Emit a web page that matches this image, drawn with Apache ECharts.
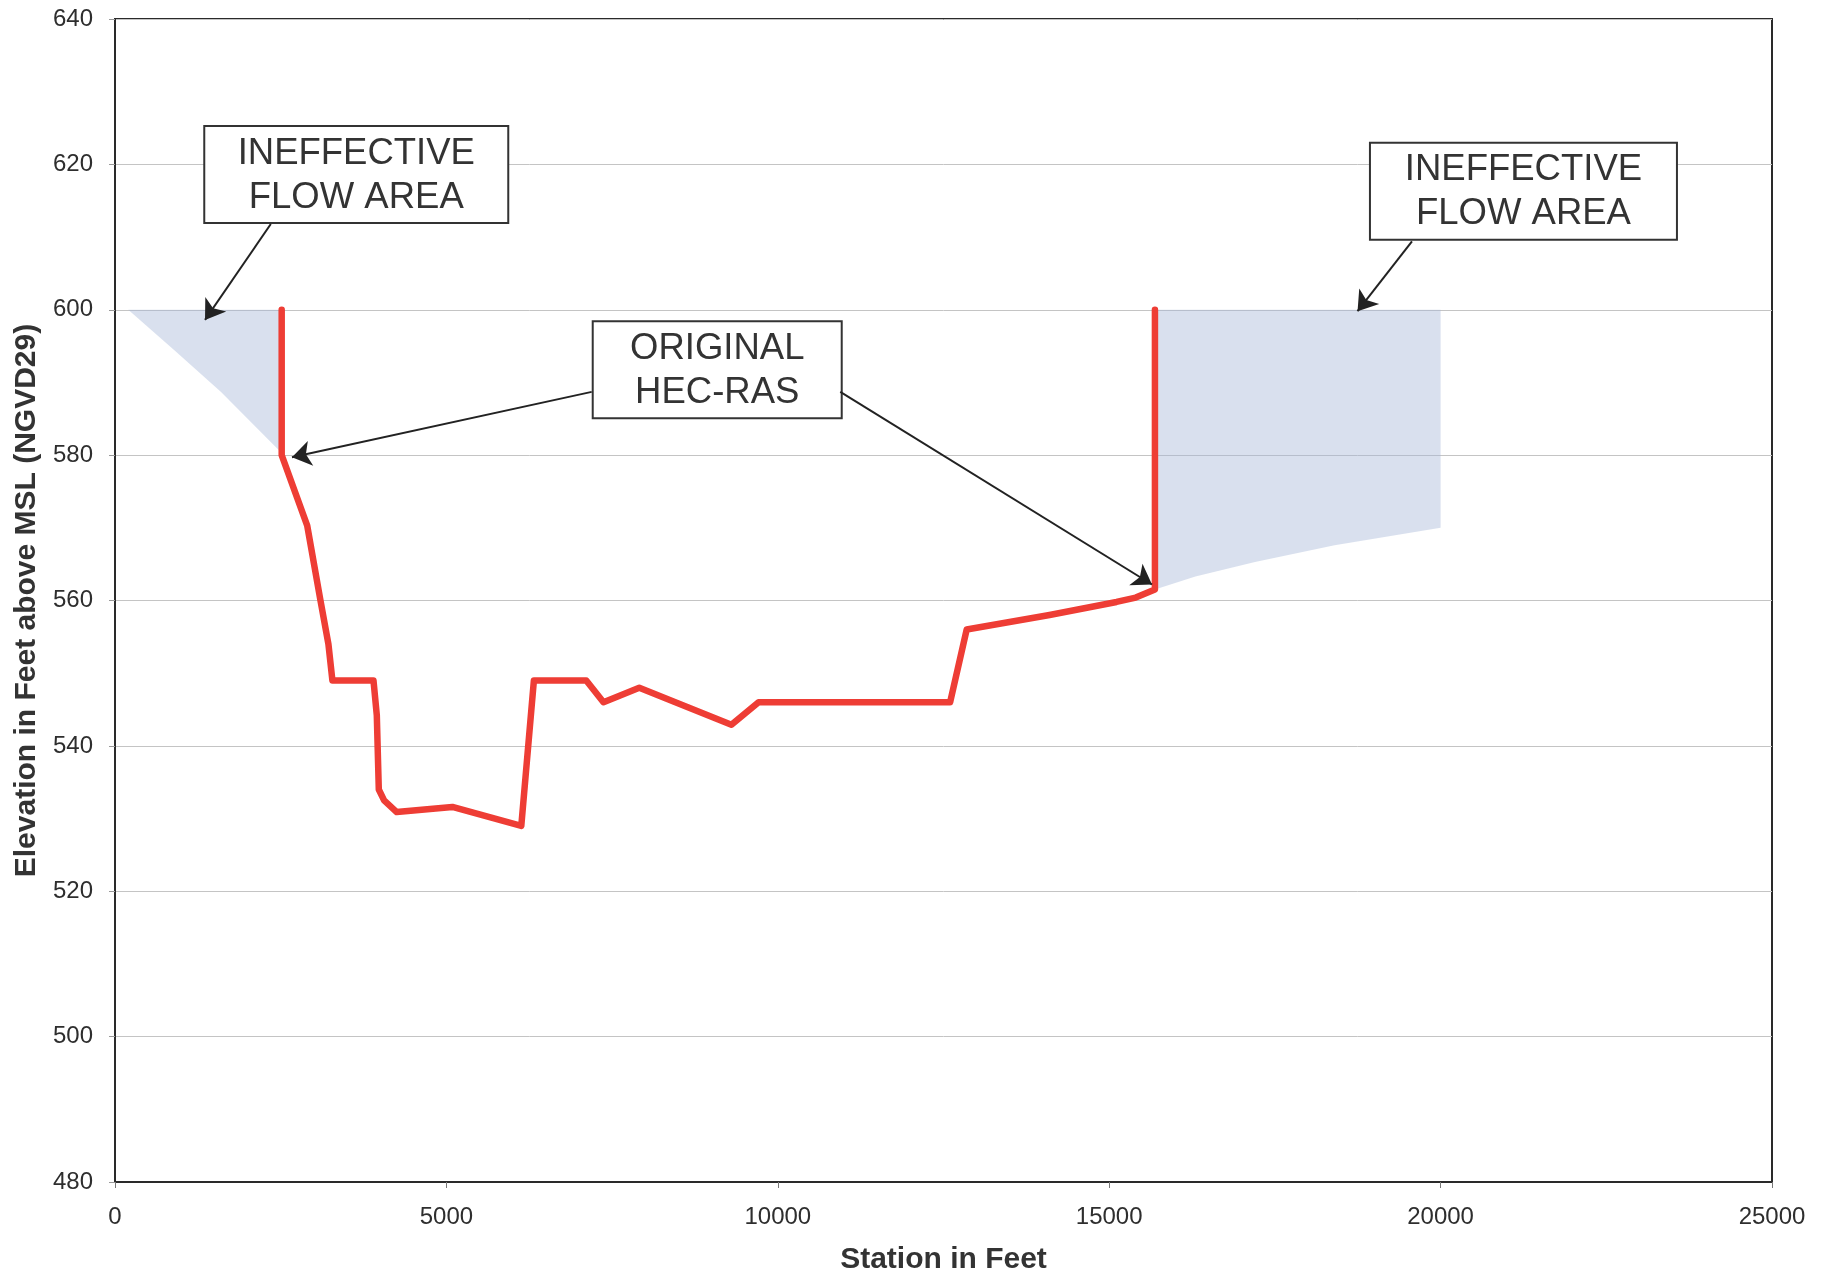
<!DOCTYPE html>
<html>
<head>
<meta charset="utf-8">
<script src="https://cdn.jsdelivr.net/npm/echarts@6/dist/echarts.min.js"></script>
<style>
html,body{margin:0;padding:0;background:#fff;}
#chart{width:1830px;height:1275px;}
</style>
</head>
<body>
<div id="chart"></div>
<script>
// ---- Data ----
const stations   = [2515, 2515, 2900, 3100, 3220, 3280, 3900, 3950, 3980, 4060, 4250, 5090, 6130, 6320, 7110, 7370, 7910, 9300, 9710, 12600, 12850, 14100, 15110, 15400, 15690, 15690];
const elevations = [600,  580,  570.3, 560, 554, 549, 549, 544.2, 534, 532.5, 530.9, 531.6, 529, 549, 549, 546, 548, 542.9, 546, 546, 556, 558, 559.8, 560.4, 561.5, 600];

const leftIneffStations   = [200, 900, 1600, 2515, 2515];
const leftIneffElevations = [600, 594.4, 588.7, 580.3, 600];

const rightIneffStations   = [15690, 16300, 17200, 18400, 20000, 20000, 15690];
const rightIneffElevations = [561.5, 563.3, 565.3, 567.6, 570, 600, 600];

const xTicks = [0, 5000, 10000, 15000, 20000, 25000];
const yTicks = [480, 500, 520, 540, 560, 580, 600, 620, 640];

const boxLabels = [
  ['INEFFECTIVE', 'FLOW AREA'],
  ['ORIGINAL', 'HEC-RAS'],
  ['INEFFECTIVE', 'FLOW AREA']
];
const boxCenters = [[3640, 618.6], [9086, 591.75], [21250, 616.3]];
const arrowStarts = [[2351, 611.8], [7192, 588.7], [10943, 588.7], [19568, 609.4]];
const arrowEnds   = [[1358, 598.6], [2670, 579.7], [15646, 562.2], [18747, 599.8]];

// ---- Build ----
const profile = stations.map((s, i) => [s, elevations[i]]);
const leftPoly = leftIneffStations.map((s, i) => [s, leftIneffElevations[i]]);
const rightPoly = rightIneffStations.map((s, i) => [s, rightIneffElevations[i]]);

function polySeries(pts) {
  return {
    type: 'custom',
    data: pts,
    encode: { x: 0, y: 1 },
    silent: true,
    z: 1,
    renderItem: function (params, api) {
      if (params.dataIndex !== 0) return;
      const points = pts.map(p => api.coord(p));
      return {
        type: 'polygon',
        shape: { points: points },
        style: { fill: 'rgba(165,182,214,0.42)', stroke: null }
      };
    }
  };
}

const FONT = '"Liberation Sans", Arial, Helvetica, sans-serif';
const chart = echarts.init(document.getElementById('chart'), null, { renderer: 'canvas' });

const boxSizes = [[304, 97], [249, 97], [307, 97]];

chart.setOption({
  animation: false,
  backgroundColor: '#ffffff',
  grid: {
    left: 115, right: 58, top: 19, bottom: 93,
    outerBoundsMode: 'none',
    containLabel: false,
    show: true, borderColor: '#2a2a2a', borderWidth: 2, backgroundColor: 'transparent'
  },
  xAxis: {
    type: 'value',
    min: xTicks[0], max: xTicks[xTicks.length - 1], interval: 5000,
    name: 'Station in Feet',
    nameLocation: 'middle',
    nameGap: 63,
    nameTextStyle: { fontFamily: FONT, fontSize: 30, fontWeight: 'bold', color: '#333' },
    axisLine: { show: true, onZero: false, lineStyle: { color: '#2a2a2a', width: 2 } },
    axisTick: { show: true, inside: false, length: 6, lineStyle: { color: '#777' } },
    axisLabel: { fontFamily: FONT, fontSize: 24, color: '#2e2e2e', margin: 23, formatter: v => String(v) },
    splitLine: { show: false }
  },
  yAxis: {
    type: 'value',
    min: yTicks[0], max: yTicks[yTicks.length - 1], interval: 20,
    name: 'Elevation in Feet above MSL (NGVD29)',
    nameLocation: 'middle',
    nameGap: 69,
    nameRotate: 90,
    nameTextStyle: { fontFamily: FONT, fontSize: 30, fontWeight: 'bold', color: '#333' },
    axisLine: { show: true, onZero: false, lineStyle: { color: '#2a2a2a', width: 2 } },
    axisTick: { show: true, inside: false, length: 6, lineStyle: { color: '#999' } },
    axisLabel: { fontFamily: FONT, fontSize: 24, color: '#2e2e2e', margin: 22, formatter: v => String(v) },
    splitLine: { show: true, lineStyle: { color: '#c4c4c4', width: 1 } }
  },
  series: [
    polySeries(leftPoly),
    polySeries(rightPoly),
    {
      type: 'line',
      data: profile,
      showSymbol: false,
      symbol: 'none',
      z: 3,
      lineStyle: { color: '#ee3d35', width: 6.5, join: 'round', cap: 'round' },
      markLine: {
        silent: true,
        symbol: ['none', 'arrow'],
        symbolSize: 19,
        label: { show: false },
        lineStyle: { color: '#222', width: 2, type: 'solid' },
        emphasis: { disabled: true },
        data: arrowStarts.map((s, i) => [{ coord: s }, { coord: arrowEnds[i] }])
      }
    }
  ]
});

// annotation boxes positioned through the chart's scales
const graphics = boxCenters.map((c, i) => {
  const p = chart.convertToPixel({ gridIndex: 0 }, c);
  const w = boxSizes[i][0], h = boxSizes[i][1];
  return {
    type: 'group',
    x: p[0], y: p[1],
    z: 100,
    children: [
      {
        type: 'rect',
        shape: { x: -w / 2, y: -h / 2, width: w, height: h },
        style: { fill: '#fff', stroke: '#333', lineWidth: 2 }
      },
      {
        type: 'text',
        x: 0, y: -21,
        style: {
          text: boxLabels[i][0], fontFamily: FONT, fontSize: 36.5, fill: '#333',
          align: 'center', verticalAlign: 'middle'
        }
      },
      {
        type: 'text',
        x: 0, y: 23,
        style: {
          text: boxLabels[i][1], fontFamily: FONT, fontSize: 36.5, fill: '#333',
          align: 'center', verticalAlign: 'middle'
        }
      }
    ]
  };
});
chart.setOption({ graphic: graphics });
</script>
</body>
</html>
